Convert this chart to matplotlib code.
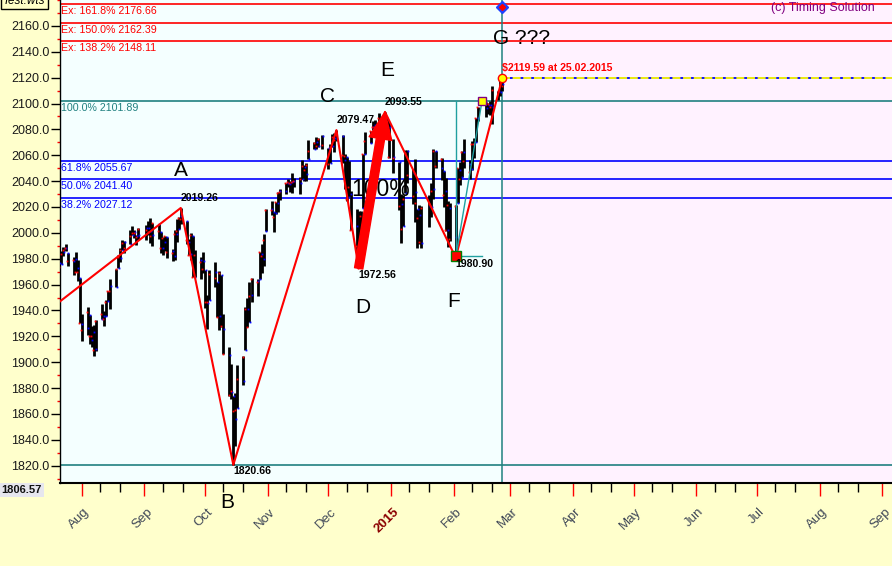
import matplotlib
matplotlib.use('Agg')
import matplotlib.pyplot as plt
import matplotlib.dates as mdates
import matplotlib.transforms as mtransforms
from matplotlib.ticker import FormatStrFormatter, MultipleLocator
import pandas as pd

plt.rcParams['font.family'] = ['Liberation Sans', 'DejaVu Sans']

#----------------------------------------- Datos (S&P 500 diario) -----------------------------------------#
trade_days = [
    '2014-07-21', '2014-07-22', '2014-07-23', '2014-07-24', '2014-07-25', '2014-07-28', '2014-07-29', '2014-07-30', '2014-07-31',
    '2014-08-01', '2014-08-04', '2014-08-05', '2014-08-06', '2014-08-07', '2014-08-08', '2014-08-11', '2014-08-12', '2014-08-13',
    '2014-08-14', '2014-08-15', '2014-08-18', '2014-08-19', '2014-08-20', '2014-08-21', '2014-08-22', '2014-08-25', '2014-08-26',
    '2014-08-27', '2014-08-28', '2014-08-29',
    '2014-09-02', '2014-09-03', '2014-09-04', '2014-09-05', '2014-09-08', '2014-09-09', '2014-09-10', '2014-09-11', '2014-09-12',
    '2014-09-15', '2014-09-16', '2014-09-17', '2014-09-18', '2014-09-19', '2014-09-22', '2014-09-23', '2014-09-24', '2014-09-25',
    '2014-09-26', '2014-09-29', '2014-09-30',
    '2014-10-01', '2014-10-02', '2014-10-03', '2014-10-06', '2014-10-07', '2014-10-08', '2014-10-09', '2014-10-10', '2014-10-13',
    '2014-10-14', '2014-10-15', '2014-10-16', '2014-10-17', '2014-10-20', '2014-10-21', '2014-10-22', '2014-10-23', '2014-10-24',
    '2014-10-27', '2014-10-28', '2014-10-29', '2014-10-30', '2014-10-31',
    '2014-11-03', '2014-11-04', '2014-11-05', '2014-11-06', '2014-11-07', '2014-11-10', '2014-11-11', '2014-11-12', '2014-11-13',
    '2014-11-14', '2014-11-17', '2014-11-18', '2014-11-19', '2014-11-20', '2014-11-21', '2014-11-24', '2014-11-25', '2014-11-26',
    '2014-11-28',
    '2014-12-01', '2014-12-02', '2014-12-03', '2014-12-04', '2014-12-05', '2014-12-08', '2014-12-09', '2014-12-10', '2014-12-11',
    '2014-12-12', '2014-12-15', '2014-12-16', '2014-12-17', '2014-12-18', '2014-12-19', '2014-12-22', '2014-12-23', '2014-12-24',
    '2014-12-26', '2014-12-29', '2014-12-30', '2014-12-31',
    '2015-01-02', '2015-01-05', '2015-01-06', '2015-01-07', '2015-01-08', '2015-01-09', '2015-01-12', '2015-01-13', '2015-01-14',
    '2015-01-15', '2015-01-16', '2015-01-20', '2015-01-21', '2015-01-22', '2015-01-23', '2015-01-26', '2015-01-27', '2015-01-28',
    '2015-01-29', '2015-01-30',
    '2015-02-02', '2015-02-03', '2015-02-04', '2015-02-05', '2015-02-06', '2015-02-09', '2015-02-10', '2015-02-11', '2015-02-12',
    '2015-02-13', '2015-02-17', '2015-02-18', '2015-02-19', '2015-02-20', '2015-02-23', '2015-02-24', '2015-02-25',
]

opens = [
    1976.93, 1975.65, 1985.32, 1988.07, 1984.60, 1978.25, 1980.03, 1973.21, 1965.14,
    1929.80, 1926.62, 1936.34, 1917.29, 1923.03, 1910.35, 1933.43, 1935.73, 1935.60, 1947.41, 1958.87, 1958.36, 1972.73,
    1980.46, 1986.82, 1992.60, 1991.74, 1998.59, 2000.54, 1997.42, 1998.45,
    2004.07, 2003.57, 2001.67, 1998.00, 2007.17, 2000.73, 1988.41, 1992.85, 1996.74, 1986.04, 1981.93, 1999.30, 2003.07,
    2012.74, 2009.08, 1992.78, 1983.34, 1997.32, 1966.22, 1978.96, 1978.21,
    1971.44, 1945.83, 1948.12, 1970.01, 1962.36, 1935.55, 1967.68, 1925.63, 1905.65, 1877.11, 1874.18, 1855.95, 1864.91,
    1885.62, 1909.38, 1941.29, 1931.02, 1951.59, 1962.97, 1964.14, 1983.29, 1979.49, 2001.20,
    2018.21, 2015.81, 2015.29, 2023.33, 2032.36, 2032.01, 2038.20, 2037.75, 2039.21, 2039.74, 2038.29, 2041.48, 2051.16,
    2045.87, 2057.46, 2065.07, 2070.15, 2067.36, 2074.78,
    2065.78, 2053.77, 2067.45, 2073.64, 2072.78, 2074.84, 2056.55, 2058.86, 2027.92, 2030.36, 2005.03, 1986.71, 1973.77,
    2018.98, 2061.04, 2069.28, 2081.48, 2083.25, 2084.30, 2087.63, 2088.49, 2082.11,
    2058.90, 2054.44, 2022.15, 2005.55, 2030.61, 2063.45, 2046.13, 2031.58, 2018.40, 2013.75, 1992.25, 2020.76, 2020.19,
    2034.30, 2062.98, 2050.42, 2047.86, 2032.34, 2002.45, 2019.35,
    1996.67, 2022.71, 2048.86, 2043.45, 2062.28, 2053.47, 2049.38, 2068.55, 2069.98, 2088.78, 2096.47, 2099.16, 2099.25,
    2097.65, 2109.83, 2109.10, 2115.30,
]

highs = [
    1976.93, 1986.24, 1989.23, 1991.39, 1984.60, 1981.52, 1984.85, 1978.90, 1965.14,
    1937.35, 1942.92, 1936.34, 1927.91, 1928.89, 1932.38, 1944.90, 1939.65, 1948.41, 1955.23, 1964.04, 1971.99, 1982.57,
    1988.57, 1994.76, 1993.54, 2001.95, 2005.04, 2002.14, 1998.55, 2003.38,
    2006.12, 2009.28, 2011.17, 2007.71, 2007.17, 2001.01, 1996.66, 1997.65, 1996.74, 1987.18, 2002.28, 2010.74, 2012.34,
    2019.26, 2009.08, 1995.41, 1999.79, 1997.32, 1986.37, 1981.28, 1985.17,
    1971.44, 1952.32, 1971.19, 1977.84, 1962.36, 1970.36, 1967.68, 1936.98, 1912.09, 1898.71, 1874.18, 1876.01, 1898.16,
    1905.03, 1942.45, 1949.31, 1961.95, 1965.27, 1964.64, 1985.05, 1991.40, 1999.40, 2018.19,
    2024.46, 2015.98, 2023.77, 2031.61, 2034.26, 2038.70, 2041.28, 2040.33, 2046.18, 2042.22, 2043.07, 2056.08, 2052.14,
    2053.84, 2071.46, 2070.17, 2074.21, 2073.29, 2075.76,
    2065.78, 2068.77, 2076.28, 2077.34, 2079.47, 2075.78, 2060.60, 2058.86, 2055.53, 2032.25, 2018.69, 2016.89, 2016.75,
    2061.23, 2077.85, 2078.76, 2086.73, 2087.56, 2092.70, 2093.55, 2088.49, 2085.58,
    2072.36, 2054.44, 2030.25, 2029.61, 2064.08, 2064.43, 2049.30, 2056.93, 2018.40, 2021.35, 2020.46, 2028.94, 2038.29,
    2064.62, 2062.98, 2057.62, 2047.86, 2042.49, 2024.64, 2023.32,
    2021.66, 2050.30, 2054.74, 2063.55, 2072.40, 2056.16, 2070.86, 2073.48, 2088.53, 2097.03, 2101.30, 2100.23, 2102.13,
    2113.91, 2110.05, 2117.94, 2119.59,
]

lows = [
    1965.77, 1975.65, 1982.44, 1985.79, 1974.37, 1967.31, 1969.95, 1962.42, 1930.67,
    1916.37, 1921.20, 1913.77, 1911.45, 1904.78, 1909.01, 1933.43, 1928.29, 1935.60, 1947.41, 1941.50, 1958.36, 1972.73,
    1977.68, 1986.82, 1984.76, 1991.74, 1998.59, 1996.20, 1990.52, 1994.65,
    1994.85, 1998.14, 1992.54, 1990.10, 1995.60, 1984.61, 1982.99, 1985.93, 1980.26, 1978.48, 1979.06, 1993.29, 2003.07,
    2006.59, 1991.01, 1982.77, 1978.63, 1965.99, 1966.22, 1964.04, 1968.96,
    1941.72, 1926.03, 1948.12, 1958.43, 1935.10, 1925.25, 1927.56, 1906.05, 1874.14, 1871.79, 1820.66, 1835.02, 1864.91,
    1882.30, 1909.38, 1926.83, 1931.02, 1946.27, 1951.37, 1964.14, 1969.04, 1974.75, 2001.20,
    2013.68, 2001.01, 2014.42, 2015.86, 2025.07, 2030.17, 2035.28, 2031.95, 2030.44, 2035.20, 2030.20, 2041.48, 2040.37,
    2040.49, 2056.75, 2065.07, 2064.75, 2066.62, 2065.06,
    2049.57, 2053.77, 2066.65, 2062.34, 2070.81, 2054.27, 2034.17, 2024.26, 2027.92, 2002.33, 1982.26, 1972.56, 1973.77,
    2018.98, 2061.03, 2069.28, 2079.77, 2081.86, 2084.30, 2085.75, 2079.53, 2057.94,
    2046.04, 2017.34, 1992.44, 2005.55, 2030.61, 2038.33, 2022.58, 2008.25, 1988.44, 1991.47, 1988.12, 2004.49, 2012.04,
    2026.38, 2050.54, 2040.97, 2019.91, 2001.49, 1989.18, 1993.38,
    1980.90, 2022.71, 2036.72, 2043.45, 2049.97, 2041.88, 2048.62, 2057.99, 2069.98, 2086.70, 2089.80, 2092.15, 2090.79,
    2083.96, 2102.54, 2105.87, 2109.89,
]

closes = [
    1973.63, 1983.53, 1987.01, 1987.98, 1978.34, 1978.91, 1969.95, 1970.07, 1930.67,
    1925.15, 1938.99, 1920.21, 1920.24, 1909.57, 1931.59, 1936.92, 1933.75, 1946.72, 1955.18, 1955.06, 1971.74, 1981.60,
    1986.51, 1992.37, 1988.40, 1997.92, 2000.02, 2000.12, 1996.74, 2003.37,
    2002.28, 2000.72, 1997.65, 2007.71, 2001.54, 1988.44, 1995.69, 1997.45, 1985.54, 1984.13, 1998.98, 2001.57, 2011.36,
    2010.40, 1994.29, 1982.77, 1998.30, 1965.99, 1982.85, 1977.80, 1972.29,
    1946.16, 1946.17, 1967.90, 1964.82, 1935.10, 1968.89, 1928.21, 1906.13, 1874.74, 1877.70, 1862.49, 1862.76, 1886.76,
    1904.01, 1941.28, 1927.11, 1950.82, 1964.58, 1961.63, 1985.05, 1982.30, 1994.65, 2018.05,
    2017.81, 2012.10, 2023.57, 2031.21, 2031.92, 2038.26, 2039.68, 2038.25, 2039.33, 2039.82, 2041.32, 2051.80, 2048.72,
    2052.75, 2063.50, 2069.41, 2067.03, 2072.83, 2067.56,
    2053.44, 2066.55, 2074.33, 2071.92, 2075.37, 2060.31, 2059.82, 2026.14, 2035.33, 2002.33, 1989.63, 1972.74, 2012.89,
    2061.23, 2070.65, 2078.54, 2082.17, 2081.88, 2088.77, 2090.57, 2080.35, 2058.90,
    2058.20, 2020.58, 2002.61, 2025.90, 2062.14, 2044.81, 2028.26, 2023.03, 2011.27, 1992.67, 2019.42, 2022.55, 2032.12,
    2063.15, 2051.82, 2057.09, 2029.55, 2002.16, 2021.25, 1994.99,
    2020.85, 2050.03, 2041.51, 2062.52, 2055.47, 2046.74, 2068.59, 2068.53, 2088.48, 2096.99, 2100.34, 2099.68, 2097.45,
    2110.30, 2109.66, 2115.48, 2113.86,
]

# Niveles de Fibonacci
fib_levels = [2176.66, 2162.39, 2148.11, 2101.89, 2055.67, 2041.40, 2027.12]
fib_labels = ['Ex: 161.8% 2176.66', 'Ex: 150.0% 2162.39', 'Ex: 138.2% 2148.11', '100.0% 2101.89',
              '61.8% 2055.67', '50.0% 2041.40', '38.2% 2027.12']
fib_colors = ['#FF0000', '#FF0000', '#FF0000', '#208080', '#0000FF', '#0000FF', '#0000FF']
low_level = 1820.66

# Zigzag A-B-C-D-E-F-G
zz_dates = ['2014-07-21 06:30', '2014-09-19', '2014-10-15', '2014-12-05', '2014-12-16', '2014-12-29', '2015-02-02', '2015-02-25']
zz_values = [1947.0, 2019.26, 1820.66, 2079.47, 1972.56, 2093.55, 1980.90, 2119.59]
pivot_labels = ['', '2019.26', '1820.66', '2079.47', '1972.56', '2093.55', '1980.90', '$2119.59 at 25.02.2015']

letters = ['A', 'B', 'C', 'D', 'E', 'F', 'G ???']
letter_dates = ['2014-09-19', '2014-10-12', '2014-11-30 10:00', '2014-12-18 05:00', '2014-12-30', '2015-01-31 20:00', '2015-02-20 14:00']
letter_prices = [2048.0, 1791.4, 2105.1, 1942.1, 2125.2, 1946.7, 2150.3]

# Objetivo de tiempo (cuadro amarillo)
target_date = '2015-02-15'
target_price = 2101.89
now_date = '2015-02-25'
now_price = 2119.59

month_ticks = ['2014-08-01', '2014-09-01', '2014-10-01', '2014-11-01', '2014-12-01', '2015-01-01', '2015-02-01',
               '2015-03-01', '2015-04-01', '2015-05-01', '2015-06-01', '2015-07-01', '2015-08-01', '2015-09-01']
month_labels = ['Aug', 'Sep', 'Oct', 'Nov', 'Dec', '2015', 'Feb', 'Mar', 'Apr', 'May', 'Jun', 'Jul', 'Aug', 'Sep']


def dn(s):
    return mdates.date2num(pd.Timestamp(s))


x = mdates.date2num(pd.to_datetime(trade_days))
x_left = dn('2014-07-21 06:30')
x_right = dn('2015-09-05 19:00')
x_now = dn(now_date)

#--------------------------------------------- Grafico ---------------------------------------------#
fig = plt.figure(figsize=(8.92, 5.66), dpi=100, facecolor='#FFFFCC')
ax = fig.add_axes([60 / 892, 83 / 566, 832 / 892, 483 / 566])
ax.set_facecolor('#F4FFFF')
ax.set_xlim(x_left, x_right)
ax.set_ylim(1806.57, 2180.07)
ax.axvspan(x_now, x_right, color='#FFF2FF', lw=0, zorder=0)

# Lineas horizontales
for lev, lab, c in zip(fib_levels, fib_labels, fib_colors):
    ax.axhline(lev, color=c, lw=1.2, zorder=2)
    ax.annotate(lab, xy=(0, lev), xycoords=('axes fraction', 'data'), xytext=(1, -1.5),
                textcoords='offset points', ha='left', va='top', fontsize=7.7, color=c, zorder=6)
ax.axhline(low_level, color='#208080', lw=1.2, zorder=2)
ax.axvline(x_now, color='#208080', lw=1.1, zorder=2)

# Precio actual
ax.hlines(now_price, x_now, x_right, color='#0000FF', lw=1.3, zorder=2)
ax.hlines(now_price, x_now, x_right, color='#FFFF00', lw=1.3, linestyles=(0, (4.4, 1.5)), zorder=2)

# Barras OHLC
ax.vlines(x, lows, highs, color='black', lw=2.0, zorder=3)
ax.plot(x + 0.25, opens, ls='none', marker='s', ms=1.3, mew=0, color='#0000FF', zorder=3.5)
ax.plot(x - 0.25, closes, ls='none', marker='s', ms=1.3, mew=0, color='#FF0000', zorder=3.5)

# Zigzag
zx = [dn(d) for d in zz_dates]
ax.plot(zx, zz_values, color='#FF0000', lw=1.5, zorder=4)
for i in range(1, len(zx)):
    if zz_values[i] > zz_values[i - 1]:
        off, col = 7.2, 'black'
    else:
        off, col = -4.8, 'black'
    if i == len(zx) - 1:
        col = '#FF0000'
    ax.annotate(pivot_labels[i], xy=(zx[i], zz_values[i]), xytext=(0, off), textcoords='offset points',
                ha='left', va='center', fontsize=7.6, fontweight='bold', color=col, zorder=7)

# Flecha D -> E
ax.annotate('', xy=(zx[5], zz_values[5]), xytext=(zx[4], zz_values[4]),
            arrowprops=dict(arrowstyle='simple,head_length=1.3,head_width=1.1,tail_width=0.4',
                            fc='#FF0000', ec='#FF0000', mutation_scale=15, shrinkA=0, shrinkB=0), zorder=8)
ax.text(dn('2014-12-27'), 2033.4, '100%', fontsize=16.5, ha='center', va='center', color='black', zorder=7)

for lt, ld, lp in zip(letters, letter_dates, letter_prices):
    ax.text(dn(ld), lp, lt, fontsize=15, ha='left' if lt.startswith('G') else 'center', va='center',
            color='black', zorder=7, clip_on=False)

# Objetivo en tiempo desde F
xf, yf = zx[6], zz_values[6]
xt = dn(target_date)
ax.plot([xf, xf], [yf, target_price], color='#20A0A0', lw=1, zorder=4)
ax.plot([xf, xt], [yf + 1.5, yf + 1.5], color='#20A0A0', lw=1, zorder=4)
ax.plot([xf, xt], [yf, target_price], color='#20A0A0', lw=1, zorder=4)
ax.plot(xf, yf + 1.5, marker='s', ms=7.5, mfc='#FF0000', mec='#008000', mew=1, zorder=6)
ax.plot(xt, target_price, marker='s', ms=6, mfc='#FFFF00', mec='#800080', mew=1, zorder=6)
ax.plot(x_now, now_price, marker='o', ms=6, mfc='#FFFF00', mec='#FF0000', mew=1, zorder=6)
ax.plot(x_now, 0.985, marker='D', ms=6, mfc='#2040FF', mec='#2040FF', zorder=6,
        transform=mtransforms.blended_transform_factory(ax.transData, ax.transAxes), clip_on=False)
ax.plot(x_now, 0.985, marker='D', ms=3, mfc='#FF0000', mec='#FF0000', zorder=7,
        transform=mtransforms.blended_transform_factory(ax.transData, ax.transAxes), clip_on=False)

# Ejes
for s in ['top', 'right']:
    ax.spines[s].set_visible(False)
ax.spines['left'].set_color('black')
ax.spines['left'].set_linewidth(1)
ax.spines['bottom'].set_color('black')
ax.spines['bottom'].set_linewidth(1.5)

ax.set_yticks(range(1820, 2161, 20))
ax.yaxis.set_major_formatter(FormatStrFormatter('%.1f'))
ax.yaxis.set_minor_locator(MultipleLocator(10))
ax.tick_params(axis='y', which='major', length=6.5, width=1, color='black', labelsize=9, pad=1, labelcolor='#1A1A1A')
ax.tick_params(axis='y', which='minor', length=2.4, width=1, color='#FF0000')

ax.set_xticks([dn(d) for d in month_ticks])
ax.xaxis.set_minor_locator(mdates.DayLocator(bymonthday=[10, 20]))
ax.tick_params(axis='x', which='major', length=9, width=1, color='#FF0000', labelbottom=False)
ax.tick_params(axis='x', which='minor', length=6.5, width=1, color='black', labelbottom=False)

lab_trans = mtransforms.blended_transform_factory(ax.transData, ax.transAxes) + \
    mtransforms.ScaledTranslation(6 / 100, -27 / 100, fig.dpi_scale_trans)
for d, lab in zip(month_ticks, month_labels):
    if lab == '2015':
        kw = dict(color='#8B0000', fontweight='bold')
    else:
        kw = dict(color='#404858')
    ax.text(dn(d), 0, lab, transform=lab_trans, rotation=45, rotation_mode='anchor', ha='right', va='center',
            fontsize=9.5, clip_on=False, **kw)

# Textos sueltos
fig.text(875 / 892, 1 - 8 / 566, '(c) Timing Solution', ha='right', va='center', fontsize=9, color='#800080')
fig.text(3 / 892, 1 - 1 / 566, 'Test.wts', ha='left', va='center', fontsize=8.5, style='italic',
         bbox=dict(boxstyle='square,pad=0.2', fc='#FFFFC8', ec='black', lw=1))
fig.text(1 / 892, 1 - 490 / 566, '1806.57', ha='left', va='center', fontsize=8, fontweight='bold', color='#101010',
         bbox=dict(boxstyle='square,pad=0.2', fc='#E6E6EE', ec='none'))

fig.savefig('out.png', dpi=100, facecolor=fig.get_facecolor())
